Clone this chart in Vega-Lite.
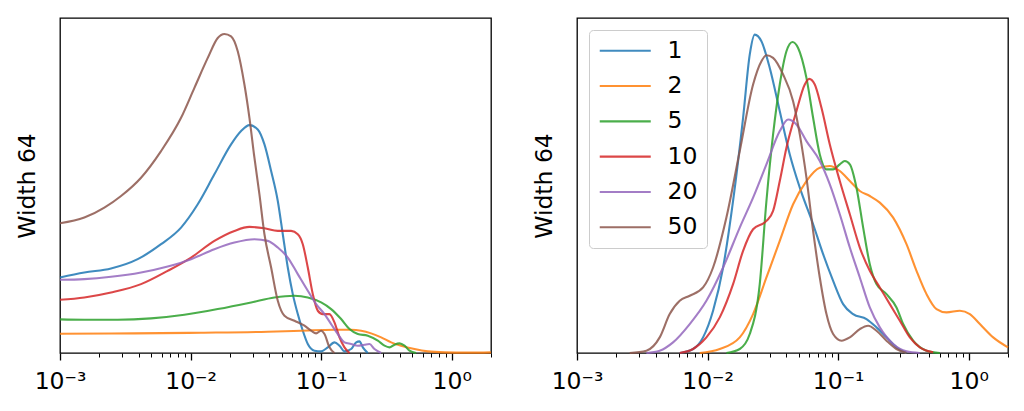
{
  "$schema": "https://vega.github.io/schema/vega-lite/v6.json",
  "padding": {"left": 14, "top": 17, "right": 10, "bottom": 5},
  "background": "white",
  "config": {
    "view": {"stroke": "black", "strokeWidth": 1.3},
    "axis": {
      "grid": false,
      "domain": false,
      "labelFont": "DejaVu Sans",
      "labelFontSize": 23.5,
      "labelColor": "black",
      "titleFont": "DejaVu Sans",
      "titleFontSize": 23.5,
      "titleFontWeight": "normal",
      "titleColor": "black",
      "tickColor": "black"
    },
    "line": {"strokeWidth": 2.1, "opacity": 0.85, "interpolate": "monotone", "clip": true}
  },
  "datasets": {
    "left": [
      {"s": "1", "x": 0.001, "y": 227}, {"s": "1", "x": 0.001536, "y": 242}, {"s": "1", "x": 0.002459, "y": 254},
      {"s": "1", "x": 0.003937, "y": 282}, {"s": "1", "x": 0.005941, "y": 327}, {"s": "1", "x": 0.008455, "y": 377},
      {"s": "1", "x": 0.01135, "y": 447}, {"s": "1", "x": 0.01522, "y": 537}, {"s": "1", "x": 0.02043, "y": 627},
      {"s": "1", "x": 0.02438, "y": 667}, {"s": "1", "x": 0.02824, "y": 685}, {"s": "1", "x": 0.03271, "y": 672},
      {"s": "1", "x": 0.0368, "y": 627}, {"s": "1", "x": 0.0414, "y": 547}, {"s": "1", "x": 0.04656, "y": 457},
      {"s": "1", "x": 0.05086, "y": 357}, {"s": "1", "x": 0.05554, "y": 257}, {"s": "1", "x": 0.06066, "y": 177},
      {"s": "1", "x": 0.06625, "y": 117}, {"s": "1", "x": 0.07236, "y": 67}, {"s": "1", "x": 0.07904, "y": 27},
      {"s": "1", "x": 0.0889, "y": 7}, {"s": "1", "x": 0.1, "y": 5}, {"s": "1", "x": 0.1125, "y": 17},
      {"s": "1", "x": 0.1265, "y": 32}, {"s": "1", "x": 0.1382, "y": 22}, {"s": "1", "x": 0.1509, "y": 5},
      {"s": "1", "x": 0.1698, "y": 12}, {"s": "1", "x": 0.1855, "y": 32}, {"s": "1", "x": 0.1967, "y": 35},
      {"s": "1", "x": 0.2086, "y": 17}, {"s": "1", "x": 0.2278, "y": 0},

      {"s": "2", "x": 0.001, "y": 58}, {"s": "2", "x": 0.003712, "y": 59}, {"s": "2", "x": 0.01204, "y": 61},
      {"s": "2", "x": 0.03903, "y": 64}, {"s": "2", "x": 0.07026, "y": 67}, {"s": "2", "x": 0.1265, "y": 70},
      {"s": "2", "x": 0.1698, "y": 70}, {"s": "2", "x": 0.2026, "y": 67}, {"s": "2", "x": 0.2416, "y": 59},
      {"s": "2", "x": 0.2883, "y": 47}, {"s": "2", "x": 0.3439, "y": 32}, {"s": "2", "x": 0.4103, "y": 22},
      {"s": "2", "x": 0.5191, "y": 12}, {"s": "2", "x": 0.6567, "y": 5}, {"s": "2", "x": 0.8811, "y": 2},
      {"s": "2", "x": 1.33, "y": 1}, {"s": "2", "x": 2.0, "y": 2},

      {"s": "5", "x": 0.001, "y": 101}, {"s": "5", "x": 0.001536, "y": 100}, {"s": "5", "x": 0.002766, "y": 100},
      {"s": "5", "x": 0.004981, "y": 104}, {"s": "5", "x": 0.008967, "y": 115}, {"s": "5", "x": 0.01615, "y": 132},
      {"s": "5", "x": 0.02909, "y": 152}, {"s": "5", "x": 0.04389, "y": 167}, {"s": "5", "x": 0.06247, "y": 172},
      {"s": "5", "x": 0.07904, "y": 167}, {"s": "5", "x": 0.1, "y": 152}, {"s": "5", "x": 0.1193, "y": 132},
      {"s": "5", "x": 0.1423, "y": 102}, {"s": "5", "x": 0.1649, "y": 72}, {"s": "5", "x": 0.191, "y": 57},
      {"s": "5", "x": 0.2278, "y": 52}, {"s": "5", "x": 0.2718, "y": 37}, {"s": "5", "x": 0.3057, "y": 22},
      {"s": "5", "x": 0.3339, "y": 17}, {"s": "5", "x": 0.3647, "y": 25}, {"s": "5", "x": 0.3984, "y": 29},
      {"s": "5", "x": 0.4351, "y": 22}, {"s": "5", "x": 0.4753, "y": 7}, {"s": "5", "x": 0.5346, "y": 0},

      {"s": "10", "x": 0.001, "y": 160}, {"s": "10", "x": 0.001536, "y": 167}, {"s": "10", "x": 0.002459, "y": 182},
      {"s": "10", "x": 0.004175, "y": 207}, {"s": "10", "x": 0.006683, "y": 247}, {"s": "10", "x": 0.01009, "y": 287},
      {"s": "10", "x": 0.01522, "y": 337}, {"s": "10", "x": 0.02167, "y": 367}, {"s": "10", "x": 0.02824, "y": 379},
      {"s": "10", "x": 0.0368, "y": 375}, {"s": "10", "x": 0.04656, "y": 367}, {"s": "10", "x": 0.0589, "y": 367},
      {"s": "10", "x": 0.06625, "y": 357}, {"s": "10", "x": 0.07236, "y": 327}, {"s": "10", "x": 0.07904, "y": 257},
      {"s": "10", "x": 0.08634, "y": 177}, {"s": "10", "x": 0.0943, "y": 127}, {"s": "10", "x": 0.103, "y": 117},
      {"s": "10", "x": 0.1158, "y": 117}, {"s": "10", "x": 0.1265, "y": 92}, {"s": "10", "x": 0.1382, "y": 47},
      {"s": "10", "x": 0.1509, "y": 17}, {"s": "10", "x": 0.1649, "y": 0},

      {"s": "20", "x": 0.001, "y": 220}, {"s": "20", "x": 0.001536, "y": 222}, {"s": "20", "x": 0.002459, "y": 229},
      {"s": "20", "x": 0.004175, "y": 242}, {"s": "20", "x": 0.006683, "y": 260}, {"s": "20", "x": 0.01009, "y": 282},
      {"s": "20", "x": 0.01522, "y": 312}, {"s": "20", "x": 0.02167, "y": 332}, {"s": "20", "x": 0.03084, "y": 342},
      {"s": "20", "x": 0.03903, "y": 337}, {"s": "20", "x": 0.04656, "y": 317}, {"s": "20", "x": 0.05554, "y": 287},
      {"s": "20", "x": 0.06625, "y": 237}, {"s": "20", "x": 0.07904, "y": 187}, {"s": "20", "x": 0.09156, "y": 147},
      {"s": "20", "x": 0.1061, "y": 117}, {"s": "20", "x": 0.1193, "y": 87}, {"s": "20", "x": 0.1342, "y": 57},
      {"s": "20", "x": 0.1509, "y": 32}, {"s": "20", "x": 0.1698, "y": 27}, {"s": "20", "x": 0.191, "y": 22},
      {"s": "20", "x": 0.2148, "y": 25}, {"s": "20", "x": 0.2346, "y": 27}, {"s": "20", "x": 0.2562, "y": 12},
      {"s": "20", "x": 0.2883, "y": 0},

      {"s": "50", "x": 0.001, "y": 390}, {"s": "50", "x": 0.001536, "y": 407}, {"s": "50", "x": 0.002186, "y": 437},
      {"s": "50", "x": 0.002934, "y": 472}, {"s": "50", "x": 0.004175, "y": 527}, {"s": "50", "x": 0.005941, "y": 607},
      {"s": "50", "x": 0.008455, "y": 707}, {"s": "50", "x": 0.0107, "y": 797}, {"s": "50", "x": 0.01354, "y": 887},
      {"s": "50", "x": 0.01615, "y": 947}, {"s": "50", "x": 0.01817, "y": 959}, {"s": "50", "x": 0.02043, "y": 952},
      {"s": "50", "x": 0.02298, "y": 907}, {"s": "50", "x": 0.02585, "y": 807}, {"s": "50", "x": 0.02824, "y": 707},
      {"s": "50", "x": 0.03084, "y": 587}, {"s": "50", "x": 0.03369, "y": 477}, {"s": "50", "x": 0.0368, "y": 357},
      {"s": "50", "x": 0.0414, "y": 257}, {"s": "50", "x": 0.04656, "y": 157}, {"s": "50", "x": 0.05236, "y": 112},
      {"s": "50", "x": 0.06247, "y": 97}, {"s": "50", "x": 0.07453, "y": 82}, {"s": "50", "x": 0.08382, "y": 67},
      {"s": "50", "x": 0.09156, "y": 59}, {"s": "50", "x": 0.1, "y": 67}, {"s": "50", "x": 0.1061, "y": 57},
      {"s": "50", "x": 0.1158, "y": 17}, {"s": "50", "x": 0.1265, "y": 0}
    ],
    "right": [
      {"s": "1", "x": 0.00612, "y": 0}, {"s": "1", "x": 0.007743, "y": 12}, {"s": "1", "x": 0.009237, "y": 47},
      {"s": "1", "x": 0.01102, "y": 127}, {"s": "1", "x": 0.01315, "y": 257}, {"s": "1", "x": 0.01568, "y": 457},
      {"s": "1", "x": 0.01871, "y": 707}, {"s": "1", "x": 0.02104, "y": 897}, {"s": "1", "x": 0.02298, "y": 957},
      {"s": "1", "x": 0.02585, "y": 937}, {"s": "1", "x": 0.02995, "y": 857}, {"s": "1", "x": 0.03573, "y": 727},
      {"s": "1", "x": 0.04263, "y": 597}, {"s": "1", "x": 0.05086, "y": 497}, {"s": "1", "x": 0.06432, "y": 387},
      {"s": "1", "x": 0.07675, "y": 297}, {"s": "1", "x": 0.09156, "y": 217}, {"s": "1", "x": 0.1092, "y": 147},
      {"s": "1", "x": 0.1303, "y": 117}, {"s": "1", "x": 0.1649, "y": 102}, {"s": "1", "x": 0.1967, "y": 77},
      {"s": "1", "x": 0.2346, "y": 47}, {"s": "1", "x": 0.2799, "y": 17}, {"s": "1", "x": 0.3339, "y": 0},

      {"s": "2", "x": 0.00871, "y": 0}, {"s": "2", "x": 0.0124, "y": 12}, {"s": "2", "x": 0.01764, "y": 47},
      {"s": "2", "x": 0.02232, "y": 117}, {"s": "2", "x": 0.02824, "y": 227}, {"s": "2", "x": 0.03573, "y": 337},
      {"s": "2", "x": 0.0452, "y": 447}, {"s": "2", "x": 0.05719, "y": 517}, {"s": "2", "x": 0.07236, "y": 557},
      {"s": "2", "x": 0.08634, "y": 562}, {"s": "2", "x": 0.103, "y": 547}, {"s": "2", "x": 0.1229, "y": 517},
      {"s": "2", "x": 0.1466, "y": 487}, {"s": "2", "x": 0.1748, "y": 472}, {"s": "2", "x": 0.2086, "y": 452},
      {"s": "2", "x": 0.2639, "y": 407}, {"s": "2", "x": 0.3339, "y": 327}, {"s": "2", "x": 0.3984, "y": 247},
      {"s": "2", "x": 0.4753, "y": 177}, {"s": "2", "x": 0.567, "y": 132}, {"s": "2", "x": 0.6764, "y": 122},
      {"s": "2", "x": 0.8558, "y": 127}, {"s": "2", "x": 1.021, "y": 117}, {"s": "2", "x": 1.218, "y": 87},
      {"s": "2", "x": 1.54, "y": 47}, {"s": "2", "x": 2.0, "y": 17},

      {"s": "5", "x": 0.01394, "y": 0}, {"s": "5", "x": 0.01764, "y": 12}, {"s": "5", "x": 0.02104, "y": 57},
      {"s": "5", "x": 0.0251, "y": 207}, {"s": "5", "x": 0.02824, "y": 457}, {"s": "5", "x": 0.03176, "y": 657},
      {"s": "5", "x": 0.03573, "y": 807}, {"s": "5", "x": 0.04019, "y": 907}, {"s": "5", "x": 0.04467, "y": 935},
      {"s": "5", "x": 0.04937, "y": 917}, {"s": "5", "x": 0.05719, "y": 827}, {"s": "5", "x": 0.06432, "y": 707},
      {"s": "5", "x": 0.07236, "y": 597}, {"s": "5", "x": 0.0814, "y": 552}, {"s": "5", "x": 0.09156, "y": 552},
      {"s": "5", "x": 0.103, "y": 567}, {"s": "5", "x": 0.1125, "y": 577}, {"s": "5", "x": 0.1229, "y": 567},
      {"s": "5", "x": 0.1382, "y": 497}, {"s": "5", "x": 0.1555, "y": 377}, {"s": "5", "x": 0.1748, "y": 267},
      {"s": "5", "x": 0.1967, "y": 207}, {"s": "5", "x": 0.2346, "y": 177}, {"s": "5", "x": 0.2799, "y": 137},
      {"s": "5", "x": 0.3148, "y": 87}, {"s": "5", "x": 0.3756, "y": 37}, {"s": "5", "x": 0.4753, "y": 7},
      {"s": "5", "x": 0.6014, "y": 0},

      {"s": "10", "x": 0.00612, "y": 0}, {"s": "10", "x": 0.007743, "y": 12}, {"s": "10", "x": 0.009797, "y": 47},
      {"s": "10", "x": 0.0124, "y": 107}, {"s": "10", "x": 0.01568, "y": 207}, {"s": "10", "x": 0.01871, "y": 307},
      {"s": "10", "x": 0.02232, "y": 372}, {"s": "10", "x": 0.02824, "y": 397}, {"s": "10", "x": 0.03176, "y": 427},
      {"s": "10", "x": 0.03573, "y": 517}, {"s": "10", "x": 0.04019, "y": 617}, {"s": "10", "x": 0.04794, "y": 727},
      {"s": "10", "x": 0.05554, "y": 807}, {"s": "10", "x": 0.05996, "y": 824}, {"s": "10", "x": 0.06625, "y": 807},
      {"s": "10", "x": 0.07453, "y": 737}, {"s": "10", "x": 0.08634, "y": 627}, {"s": "10", "x": 0.103, "y": 517},
      {"s": "10", "x": 0.1229, "y": 417}, {"s": "10", "x": 0.1466, "y": 317}, {"s": "10", "x": 0.1748, "y": 247},
      {"s": "10", "x": 0.2086, "y": 197}, {"s": "10", "x": 0.2488, "y": 147}, {"s": "10", "x": 0.2969, "y": 97},
      {"s": "10", "x": 0.3541, "y": 47}, {"s": "10", "x": 0.4225, "y": 17}, {"s": "10", "x": 0.5346, "y": 2},

      {"s": "20", "x": 0.003399, "y": 0}, {"s": "20", "x": 0.0043, "y": 7}, {"s": "20", "x": 0.00544, "y": 32},
      {"s": "20", "x": 0.0073, "y": 87}, {"s": "20", "x": 0.009797, "y": 157}, {"s": "20", "x": 0.01315, "y": 257},
      {"s": "20", "x": 0.01764, "y": 377}, {"s": "20", "x": 0.02232, "y": 467}, {"s": "20", "x": 0.02824, "y": 567},
      {"s": "20", "x": 0.03573, "y": 667}, {"s": "20", "x": 0.0414, "y": 702}, {"s": "20", "x": 0.04794, "y": 687},
      {"s": "20", "x": 0.05719, "y": 637}, {"s": "20", "x": 0.07236, "y": 577}, {"s": "20", "x": 0.08634, "y": 507},
      {"s": "20", "x": 0.103, "y": 417}, {"s": "20", "x": 0.1229, "y": 317}, {"s": "20", "x": 0.1466, "y": 227},
      {"s": "20", "x": 0.1748, "y": 137}, {"s": "20", "x": 0.2086, "y": 77}, {"s": "20", "x": 0.2639, "y": 27},
      {"s": "20", "x": 0.3339, "y": 5}, {"s": "20", "x": 0.4225, "y": 0},

      {"s": "50", "x": 0.002533, "y": 0}, {"s": "50", "x": 0.003399, "y": 7}, {"s": "50", "x": 0.0043, "y": 47},
      {"s": "50", "x": 0.00513, "y": 117}, {"s": "50", "x": 0.00612, "y": 157}, {"s": "50", "x": 0.0073, "y": 172},
      {"s": "50", "x": 0.009237, "y": 197}, {"s": "50", "x": 0.01102, "y": 257}, {"s": "50", "x": 0.01394, "y": 407},
      {"s": "50", "x": 0.01764, "y": 607}, {"s": "50", "x": 0.02232, "y": 807}, {"s": "50", "x": 0.02585, "y": 877},
      {"s": "50", "x": 0.02824, "y": 895}, {"s": "50", "x": 0.03176, "y": 887}, {"s": "50", "x": 0.03789, "y": 837},
      {"s": "50", "x": 0.0452, "y": 757}, {"s": "50", "x": 0.05086, "y": 657}, {"s": "50", "x": 0.05719, "y": 527},
      {"s": "50", "x": 0.06432, "y": 367}, {"s": "50", "x": 0.07236, "y": 227}, {"s": "50", "x": 0.0814, "y": 117},
      {"s": "50", "x": 0.09156, "y": 57}, {"s": "50", "x": 0.1061, "y": 37}, {"s": "50", "x": 0.1229, "y": 47},
      {"s": "50", "x": 0.1466, "y": 72}, {"s": "50", "x": 0.1698, "y": 82}, {"s": "50", "x": 0.1967, "y": 67},
      {"s": "50", "x": 0.2346, "y": 37}, {"s": "50", "x": 0.2799, "y": 12}, {"s": "50", "x": 0.3339, "y": 0}
    ]
  },
  "bounds": "flush",
  "spacing": 86,
  "resolve": {"scale": {"color": "independent"}, "legend": {"color": "independent"}},
  "hconcat": [
    {
      "width": 431,
      "height": 335,
      "data": {"name": "left"},
      "mark": "line",
      "encoding": {
        "x": {
          "field": "x", "type": "quantitative",
          "scale": {"type": "log", "domain": [0.001, 2], "nice": false},
          "axis": {
            "title": null,
            "values": [0.001, 0.002, 0.003, 0.004, 0.005, 0.006, 0.007, 0.008, 0.009, 0.01, 0.02, 0.03, 0.04, 0.05, 0.06, 0.07, 0.08, 0.09, 0.1, 0.2, 0.3, 0.4, 0.5, 0.6, 0.7, 0.8, 0.9, 1, 2],
            "labelExpr": "datum.value == 0.001 ? '10⁻³' : datum.value == 0.01 ? '10⁻²' : datum.value == 0.1 ? '10⁻¹' : datum.value == 1 ? '10⁰' : ''",
            "tickSize": {"condition": {"test": "datum.value == 0.001 || datum.value == 0.01 || datum.value == 0.1 || datum.value == 1", "value": 7}, "value": 4},
            "tickWidth": {"condition": {"test": "datum.value == 0.001 || datum.value == 0.01 || datum.value == 0.1 || datum.value == 1", "value": 1.3}, "value": 1},
            "labelPadding": 9,
            "labelFlush": false,
            "labelOverlap": false
          }
        },
        "y": {
          "field": "y", "type": "quantitative",
          "scale": {"domain": [0, 1007], "nice": false, "zero": false},
          "axis": {"title": "Width 64", "ticks": false, "labels": false, "titlePadding": 21}
        },
        "color": {
          "field": "s", "type": "nominal", "sort": null,
          "scale": {"domain": ["1", "2", "5", "10", "20", "50"], "range": ["#1f77b4", "#ff7f0e", "#2ca02c", "#d62728", "#9467bd", "#8c564b"]},
          "legend": null
        }
      }
    },
    {
      "width": 431,
      "height": 335,
      "data": {"name": "right"},
      "mark": "line",
      "encoding": {
        "x": {
          "field": "x", "type": "quantitative",
          "scale": {"type": "log", "domain": [0.001, 2], "nice": false},
          "axis": {
            "title": null,
            "values": [0.001, 0.002, 0.003, 0.004, 0.005, 0.006, 0.007, 0.008, 0.009, 0.01, 0.02, 0.03, 0.04, 0.05, 0.06, 0.07, 0.08, 0.09, 0.1, 0.2, 0.3, 0.4, 0.5, 0.6, 0.7, 0.8, 0.9, 1, 2],
            "labelExpr": "datum.value == 0.001 ? '10⁻³' : datum.value == 0.01 ? '10⁻²' : datum.value == 0.1 ? '10⁻¹' : datum.value == 1 ? '10⁰' : ''",
            "tickSize": {"condition": {"test": "datum.value == 0.001 || datum.value == 0.01 || datum.value == 0.1 || datum.value == 1", "value": 7}, "value": 4},
            "tickWidth": {"condition": {"test": "datum.value == 0.001 || datum.value == 0.01 || datum.value == 0.1 || datum.value == 1", "value": 1.3}, "value": 1},
            "labelPadding": 9,
            "labelFlush": false,
            "labelOverlap": false
          }
        },
        "y": {
          "field": "y", "type": "quantitative",
          "scale": {"domain": [0, 1007], "nice": false, "zero": false},
          "axis": {"title": "Width 64", "ticks": false, "labels": false, "titlePadding": 21}
        },
        "color": {
          "field": "s", "type": "nominal", "sort": null,
          "scale": {"domain": ["1", "2", "5", "10", "20", "50"], "range": ["#1f77b4", "#ff7f0e", "#2ca02c", "#d62728", "#9467bd", "#8c564b"]},
          "legend": {
            "title": null,
            "orient": "top-left",
            "offset": 12,
            "padding": 9,
            "symbolType": "M-1,0H4.1",
            "symbolSize": 400,
            "symbolStrokeWidth": 2.1,
            "symbolOpacity": 0.85,
            "labelFont": "DejaVu Sans",
            "labelFontSize": 23.5,
            "labelColor": "black",
            "labelOffset": 46,
            "rowPadding": 10.3,
            "strokeColor": "#cccccc",
            "cornerRadius": 4,
            "fillColor": "rgba(255,255,255,0.8)"
          }
        }
      }
    }
  ]
}
